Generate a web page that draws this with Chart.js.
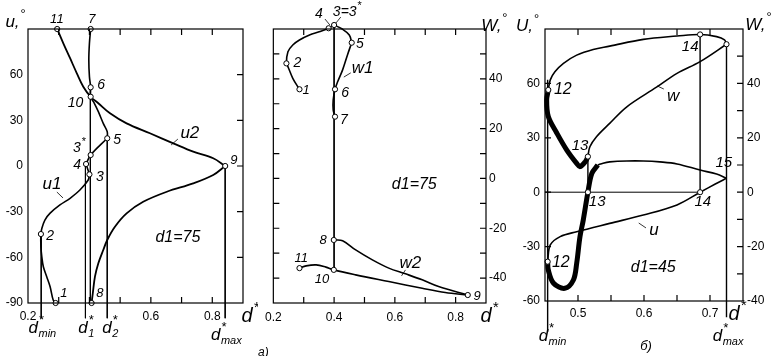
<!DOCTYPE html>
<html lang="ru">
<head>
<meta charset="utf-8">
<script src="https://cdn.jsdelivr.net/npm/chart.js@4.4.1/dist/chart.umd.min.js"></script>
<style>
    html, body { margin: 0; padding: 0; background: #fff; }
    #wrap { position: relative; width: 773px; height: 356px; overflow: hidden; }
    #wrap canvas { position: absolute; top: 0; }
</style>
</head>
<body>

<div id="wrap">
    <canvas id="c1" width="258" height="356" style="left:0"></canvas>
    <canvas id="c2" width="257" height="356" style="left:258px"></canvas>
    <canvas id="c3" width="258" height="356" style="left:515px"></canvas>
</div>

<script>
const FONT = '"Liberation Sans", Arial, Helvetica, sans-serif';
Chart.defaults.font.family = FONT;
Chart.defaults.font.size = 12;
Chart.defaults.color = '#000';

// ---------- panel a: u(d*), d1=75 ----------
const u1_d = [0.290, 0.282, 0.272, 0.261, 0.250, 0.245, 0.242, 0.242, 0.245, 0.255, 0.272, 0.304, 0.337, 0.369, 0.396, 0.400, 0.389, 0.404, 0.458, 0.458, 0.445, 0.429, 0.416, 0.404, 0.404, 0.400, 0.398, 0.400, 0.404];
const u1_u = [-90, -88, -79.3, -72.7, -66.2, -59.6, -53, -44.7, -41, -35.5, -31, -25.6, -21.2, -15.8, -9.2, -5.5, 1.3, 7.2, 18.2, 22.5, 28, 35.7, 41.2, 45.5, 51.7, 58.7, 69.6, 80.6, 90];
const u1_breaks = [15, 16, 18];
const u2_d = [0.407, 0.411, 0.418, 0.429, 0.445, 0.458, 0.483, 0.521, 0.575, 0.652, 0.738, 0.803, 0.842, 0.803, 0.738, 0.673, 0.597, 0.521, 0.467, 0.429, 0.404, 0.380, 0.359, 0.337, 0.315, 0.295];
const u2_u = [-90, -83.6, -72.7, -63.9, -55.2, -48.6, -39.9, -31.1, -23.5, -16.9, -11.4, -5.9, 0, 5.1, 9.4, 14.9, 21.5, 28, 34.6, 41.2, 45.5, 52.1, 60.9, 70.8, 80.6, 90];
const u2_breaks = [12];
const pts1_d = [0.290, 0.242, 0.400, 0.389, 0.404, 0.458, 0.404, 0.404, 0.407, 0.842, 0.404, 0.295];
const pts1_u = [-90, -44.7, -5.5, 1.3, 7.2, 18.2, 51.7, 90, -90, 0, 45.5, 90];
const refs1_d = [0.243, 0.387, 0.403, 0.458, 0.842];
const refs1_top = [-44.7, 1.3, 51.7, 18.2, 0];
const refs1_bot = [-100, -100, -90, -100, -100];
const xLabels1 = [0.2, 0.6, 0.8];
const yLabels1 = [60, 30, 0, -30, -60, -90];
const xTicks1 = [0.3, 0.4, 0.5, 0.6, 0.7, 0.8];
const yTicks1 = [60, 30, 0, -30, -60];

// ---------- panel a: w(d*), d1=75 ----------
const w1_d = [0.286, 0.264, 0.248, 0.243, 0.248, 0.264, 0.286, 0.319, 0.351, 0.382, 0.400, 0.428, 0.450, 0.458, 0.444, 0.428, 0.412, 0.403, 0.397, 0.397, 0.403];
const w1_w = [35.8, 40.2, 44.9, 46.2, 50.9, 53.6, 55.6, 57.6, 58.9, 60.3, 61.6, 59.9, 57.6, 54.5, 49.6, 43.6, 38.9, 35.8, 31.5, 27.5, 24.8];
const w1_breaks = [10, 13];
const w2_d = [0.399, 0.428, 0.471, 0.526, 0.580, 0.635, 0.690, 0.744, 0.840, 0.766, 0.690, 0.580, 0.471, 0.399, 0.373, 0.341, 0.308, 0.286];
const w2_w = [-24.7, -25, -28.7, -32.7, -36, -38.3, -40.7, -43.4, -46.8, -45.8, -44.1, -41.4, -38.7, -36.7, -35.6, -34.7, -35.1, -36];
const w2_breaks = [8];
const pts2_d = [0.286, 0.243, 0.382, 0.400, 0.458, 0.403, 0.403, 0.399, 0.840, 0.399, 0.286];
const pts2_w = [35.8, 46.2, 60.3, 61.6, 54.5, 35.8, 24.8, -24.7, -46.8, -36.7, -36];
const refs2_d = [0.400];
const refs2_top = [61.6];
const refs2_bot = [-36.7];
const xLabels2 = [0.2, 0.4, 0.6, 0.8];
const yLabels2 = [40, 20, 0, -20, -40];
const xTicksTop2 = [0.3, 0.5, 0.6, 0.7, 0.8];
const xTicksBot2 = [0.3, 0.4, 0.5, 0.6, 0.7, 0.8];
const yTicks2 = [50, 40, 30, 20, 10, 0, -10, -20, -30, -40];

// ---------- panel b: u, w (d*), d1=45 ----------
const wTop_d = [0.455, 0.458, 0.465, 0.478, 0.498, 0.523, 0.548, 0.599, 0.650, 0.685, 0.710, 0.722, 0.725];
const wTop_w = [37.6, 41.3, 44.3, 47.4, 50.4, 52.5, 53.7, 56.2, 57.4, 58, 57.2, 56, 54.4];
const wMid_d = [0.725, 0.685, 0.650, 0.619, 0.574, 0.548, 0.528, 0.518, 0.515];
const wMid_w = [54.4, 48, 43.7, 38.6, 31.4, 25.3, 20.4, 16.7, 13.1];
const wLoop_d = [0.515, 0.511, 0.503, 0.498, 0.483, 0.468, 0.455, 0.4525, 0.455];
const wLoop_w = [13.1, 11.2, 9.4, 10.6, 15.5, 21.7, 27.8, 33.9, 37.6];
const uLoop_d = [0.454, 0.455, 0.463, 0.480, 0.493, 0.498, 0.503, 0.508, 0.515, 0.521, 0.530];
const uLoop_u = [-38.3, -42.9, -50.2, -53, -48.4, -39.2, -24.5, -15.3, 0, 10.4, 15];
const uUp_d = [0.530, 0.538, 0.548, 0.574, 0.599, 0.624, 0.650, 0.685, 0.710, 0.725];
const uUp_u = [15, 16, 16.7, 17.2, 17.2, 16.7, 15.6, 12.2, 10, 7.7];
const uBack_d = [0.725, 0.708, 0.685, 0.650, 0.599, 0.548, 0.498, 0.473, 0.458, 0.454];
const uBack_u = [7.7, 4.5, 0, -7, -12.6, -17.2, -21.8, -24.5, -29.1, -38.3];
const pts3w_d = [0.455, 0.515, 0.685, 0.725];
const pts3w_w = [37.6, 13.1, 58, 54.4];
const pts3u_d = [0.454, 0.515, 0.685];
const pts3u_u = [-38.3, 0, 0];
const refs3_d = [0.454, 0.725, 0.685, 0.515];
const refs3_top = [62, 81.6, 87, 19.6];
const refs3_bot = [-77, -69, 0, 0];
const zero3_d = [0.45, 0.685];
const xLabels3 = [0.5, 0.6, 0.7];
const uLabels3 = [60, 30, 0, -30, -60];
const wLabels3 = [40, 20, 0, -20, -40];
const xTicks3 = [0.5, 0.55, 0.6, 0.65, 0.7];
const uTicks3 = [60, 30, 0, -30];
const wTicks3 = [50, 40, 30, 20, 10, 0, -10, -20, -30];

// text notes, anchored in data units
const notes1 = [
    {t: 'u,', sup: '°', x: 0.158, y: 94.6, s: 17},
    {t: '11', x: 0.294, y: 96.6}, {t: '7', x: 0.408, y: 96.6},
    {t: '6', x: 0.438, y: 53.2, s: 14}, {t: '10', x: 0.355, y: 41.4, s: 14},
    {t: 'u2', x: 0.727, y: 21.7, s: 17}, {t: '5', x: 0.49, y: 17.1, s: 14},
    {t: '3', sup: '*', x: 0.366, y: 11.8, s: 14}, {t: '4', x: 0.36, y: 0.7, s: 14},
    {t: '3', x: 0.434, y: -7.2, s: 14}, {t: '9', x: 0.87, y: 3.9},
    {t: 'u1', x: 0.278, y: -11.8, s: 17}, {t: '2', x: 0.272, y: -46, s: 14},
    {t: 'd1=75', x: 0.688, y: -47.3, s: 16},
    {t: '1', x: 0.317, y: -83.4}, {t: '8', x: 0.434, y: -84},
    {t: 'd', sup: '*', x: 0.923, y: -98.6, s: 20},
    {t: 'd', sup: '*', sub: 'min', x: 0.246, y: -106.4, s: 17},
    {t: 'd', sup: '*', sub: '1', x: 0.389, y: -106.4, s: 17},
    {t: 'd', sup: '*', sub: '2', x: 0.467, y: -106.4, s: 17},
    {t: 'd', sup: '*', sub: 'max', x: 0.845, y: -111, s: 17}
];
const leaders1 = [[0.294, -17.1, 0.314, -21], [0.688, 17.7, 0.666, 13.8]];

const notes2 = [
    {t: 'W,', sup: '°', x: 0.926, y: 61.2, s: 17},
    {t: '4', x: 0.35, y: 66, s: 14}, {t: '3=3', sup: '*', x: 0.442, y: 66.8, s: 14},
    {t: '5', x: 0.485, y: 54, s: 14}, {t: '2', x: 0.279, y: 46.4, s: 14},
    {t: 'w1', x: 0.494, y: 44.4, s: 17}, {t: '1', x: 0.308, y: 35.5},
    {t: '6', x: 0.436, y: 34.3, s: 14}, {t: '7', x: 0.432, y: 23.5, s: 14},
    {t: 'd1=75', x: 0.664, y: -2.6, s: 16},
    {t: '8', x: 0.364, y: -24.7}, {t: '11', x: 0.292, y: -31.9},
    {t: '10', x: 0.36, y: -40.7}, {t: 'w2', x: 0.651, y: -33.9, s: 17},
    {t: '9', x: 0.871, y: -47.2},
    {t: 'd', sup: '*', x: 0.91, y: -55.2, s: 20},
    {t: 'а)', x: 0.167, y: -70, s: 12}
];
const leaders2 = [[0.37, 64, 0.386, 61.6], [0.422, 64.8, 0.406, 62.4], [0.455, 42.4, 0.432, 40.7], [0.635, -36.7, 0.622, -39.1]];

const notes3 = [
    {t: 'U,', sup: '°', x: 0.4227, y: 91.6, s: 17}, {t: 'W,', sup: '°', x: 0.7727, y: 92.2, s: 17},
    {t: '14', x: 0.67, y: 80.1, s: 15}, {t: '12', x: 0.477, y: 56.4, s: 16},
    {t: 'w', x: 0.644, y: 53.1, s: 17}, {t: '13', x: 0.503, y: 25.5, s: 15},
    {t: '15', x: 0.721, y: 16.1, s: 15}, {t: '13', x: 0.529, y: -5.4, s: 15},
    {t: '14', x: 0.689, y: -5.4, s: 15}, {t: 'u', x: 0.615, y: -20.8, s: 17},
    {t: '12', x: 0.474, y: -39, s: 16}, {t: 'd1=45', x: 0.614, y: -41.8, s: 16},
    {t: 'd', sup: '*', x: 0.741, y: -67.2, s: 20},
    {t: 'd', sup: '*', sub: 'min', x: 0.461, y: -79.3, s: 17},
    {t: 'd', sup: '*', sub: 'max', x: 0.727, y: -79.3, s: 17},
    {t: 'б)', x: 0.603, y: -85, s: 13}
];
const leaders3 = [[0.63, 56.9, 0.62, 58.6], [0.603, -19.7, 0.592, -17]];

// ---------- helpers ----------
function pts(xs, ys) {
    return xs.map((x, i) => ({x: x, y: ys[i]}));
}

function pieces(xs, ys, breaks) {
    const out = [];
    let s = 0;
    breaks.concat([xs.length - 1]).forEach(b => {
        out.push(pts(xs.slice(s, b + 1), ys.slice(s, b + 1)));
        s = b;
    });
    return out;
}

function curve(data, axis, width) {
    return {
        data: data, yAxisID: axis, showLine: true, tension: 0.35,
        borderColor: '#000', borderWidth: width || 1.6,
        pointRadius: 0, clip: false, order: 1
    };
}

function markers(data, axis) {
    return {
        data: data, yAxisID: axis, showLine: false,
        pointRadius: 2.6, pointBackgroundColor: '#fff',
        pointBorderColor: '#000', pointBorderWidth: 1,
        clip: false, order: -1
    };
}

function refLines(ds, tops, bots, axis, width) {
    return ds.map((d, i) => ({
        data: [{x: d, y: tops[i]}, {x: d, y: bots[i]}], yAxisID: axis,
        showLine: true, borderColor: '#000', borderWidth: width || 1,
        pointRadius: 0, clip: false, order: 2
    }));
}

function drawText(ctx, x, y, n) {
    const s = n.s || 13;
    const f = sz => 'italic ' + sz + 'px ' + FONT;
    const supS = Math.round(s * 0.75), subS = Math.round(s * 0.62);
    ctx.font = f(s);
    const w0 = ctx.measureText(n.t).width;
    ctx.font = f(supS);
    const wa = n.sup ? ctx.measureText(n.sup).width : 0;
    ctx.font = f(subS);
    const wb = n.sub ? ctx.measureText(n.sub).width : 0;
    const x0 = x - (w0 + Math.max(wa, wb)) / 2;
    ctx.textAlign = 'left';
    ctx.textBaseline = 'middle';
    ctx.font = f(s);
    ctx.fillText(n.t, x0, y);
    if (n.sup) {
        ctx.font = f(supS);
        ctx.fillText(n.sup, x0 + w0 + 0.5, y - s * 0.42);
    }
    if (n.sub) {
        ctx.font = f(subS);
        ctx.fillText(n.sub, x0 + w0 + 0.5, y + s * 0.34);
    }
}

// frame with inward ticks + text notes
function deco(cfg) {
    return {
        id: 'deco',
        afterDraw(chart) {
            const ctx = chart.ctx, a = chart.chartArea, sx = chart.scales.x;
            const L = 6;
            ctx.save();
            ctx.strokeStyle = '#000';
            ctx.fillStyle = '#000';
            ctx.lineWidth = 1.2;
            ctx.strokeRect(a.left, a.top, a.right - a.left, a.bottom - a.top);
            ctx.beginPath();
            (cfg.top || []).forEach(v => {
                const x = sx.getPixelForValue(v);
                ctx.moveTo(x, a.top); ctx.lineTo(x, a.top + L);
            });
            (cfg.bottom || []).forEach(v => {
                const x = sx.getPixelForValue(v);
                ctx.moveTo(x, a.bottom); ctx.lineTo(x, a.bottom - L);
            });
            (cfg.left || []).forEach(v => {
                const y = chart.scales[cfg.leftAxis].getPixelForValue(v);
                ctx.moveTo(a.left, y); ctx.lineTo(a.left + L, y);
            });
            (cfg.right || []).forEach(v => {
                const y = chart.scales[cfg.rightAxis].getPixelForValue(v);
                ctx.moveTo(a.right, y); ctx.lineTo(a.right - L, y);
            });
            ctx.stroke();

            const sy = chart.scales[cfg.noteAxis];
            ctx.lineWidth = 0.8;
            ctx.beginPath();
            cfg.leaders.forEach(l => {
                ctx.moveTo(sx.getPixelForValue(l[0]), sy.getPixelForValue(l[1]));
                ctx.lineTo(sx.getPixelForValue(l[2]), sy.getPixelForValue(l[3]));
            });
            ctx.stroke();
            cfg.notes.forEach(n => drawText(ctx, sx.getPixelForValue(n.x), sy.getPixelForValue(n.y), n));
            ctx.restore();
        }
    };
}

function xScale(min, max, labels, pad, h) {
    return {
        type: 'linear', position: 'bottom', min: min, max: max,
        grid: {display: false, drawTicks: false}, border: {display: false},
        ticks: {padding: pad, autoSkip: false, maxRotation: 0, callback: v => String(v)},
        afterBuildTicks: s => { s.ticks = labels.map(v => ({value: v})); },
        afterFit: s => { s.height = h; }
    };
}

function yScale(pos, min, max, labels, pad, w) {
    return {
        type: 'linear', position: pos, min: min, max: max,
        grid: {display: false, drawTicks: false}, border: {display: false},
        ticks: {padding: pad, callback: v => String(v)},
        afterBuildTicks: s => { s.ticks = labels.map(v => ({value: v})); },
        afterFit: s => { s.width = w; }
    };
}

function baseOptions(padding, scales) {
    return {
        responsive: false, animation: false, events: [],
        layout: {padding: padding},
        plugins: {legend: {display: false}, tooltip: {enabled: false}},
        scales: scales
    };
}

// ---------- charts ----------
new Chart(document.getElementById('c1'), {
    type: 'scatter',
    data: {
        datasets: [markers(pts(pts1_d, pts1_u), 'y')]
            .concat(pieces(u1_d, u1_u, u1_breaks).map(p => curve(p, 'y')))
            .concat(pieces(u2_d, u2_u, u2_breaks).map(p => curve(p, 'y', 1.8)))
            .concat(refLines(refs1_d, refs1_top, refs1_bot, 'y'))
    },
    options: baseOptions({left: 0, right: 15, top: 29, bottom: 0}, {
        x: xScale(0.2, 0.9, xLabels1, 6, 53),
        y: yScale('left', -90, 90, yLabels1, 5, 28)
    }),
    plugins: [deco({top: xTicks1, bottom: xTicks1, right: yTicks1, rightAxis: 'y',
        noteAxis: 'y', notes: notes1, leaders: leaders1})]
});

new Chart(document.getElementById('c2'), {
    type: 'scatter',
    data: {
        datasets: [markers(pts(pts2_d, pts2_w), 'y')]
            .concat(pieces(w1_d, w1_w, w1_breaks).map(p => curve(p, 'y')))
            .concat(pieces(w2_d, w2_w, w2_breaks).map(p => curve(p, 'y')))
            .concat(refLines(refs2_d, refs2_top, refs2_bot, 'y'))
    },
    options: baseOptions({left: 14, right: 0, top: 29, bottom: 0}, {
        x: xScale(0.2, 0.9, xLabels2, 7, 53),
        y: yScale('right', -50, 60, yLabels2, 3, 29)
    }),
    plugins: [deco({top: xTicksTop2, bottom: xTicksBot2, left: yTicks2, leftAxis: 'y',
        right: yTicks2, rightAxis: 'y', noteAxis: 'y', notes: notes2, leaders: leaders2})]
});

new Chart(document.getElementById('c3'), {
    type: 'scatter',
    data: {
        datasets: [markers(pts(pts3w_d, pts3w_w), 'yW'), markers(pts(pts3u_d, pts3u_u), 'yU'),
            curve(pts(wTop_d, wTop_w), 'yW'), curve(pts(wMid_d, wMid_w), 'yW'),
            curve(pts(wLoop_d, wLoop_w), 'yW', 5),
            curve(pts(uLoop_d, uLoop_u), 'yU', 5), curve(pts(uUp_d, uUp_u), 'yU'),
            curve(pts(uBack_d, uBack_u), 'yU')]
            .concat(refLines(refs3_d, refs3_top, refs3_bot, 'yU', 1.4))
            .concat([{data: pts(zero3_d, [0, 0]), yAxisID: 'yU', showLine: true,
                borderColor: '#000', borderWidth: 1, pointRadius: 0, order: 2}])
    },
    options: baseOptions({left: 0, right: 0, top: 29, bottom: 0}, {
        x: xScale(0.45, 0.75, xLabels3, 5, 55),
        yU: yScale('left', -60, 90, uLabels3, 5, 30),
        yW: yScale('right', -40, 60, wLabels3, 4, 30)
    }),
    plugins: [deco({top: xTicks3, bottom: xTicks3, left: uTicks3, leftAxis: 'yU',
        right: wTicks3, rightAxis: 'yW', noteAxis: 'yU', notes: notes3, leaders: leaders3})]
});
</script>

</body>
</html>
